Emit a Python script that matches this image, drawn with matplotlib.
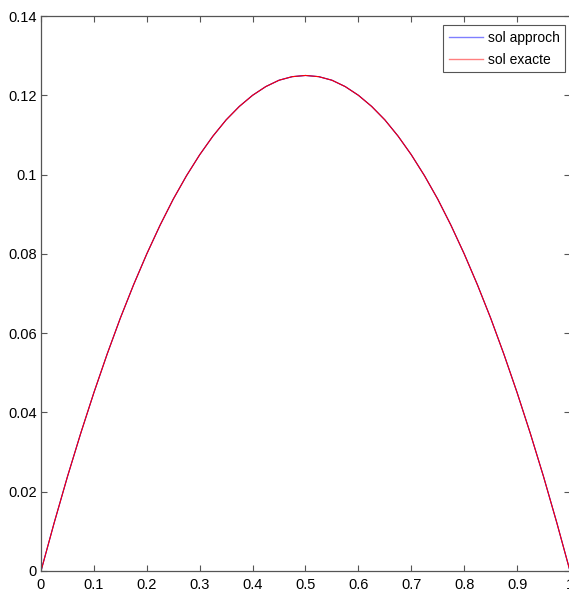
import matplotlib
matplotlib.use("Agg")
import matplotlib.pyplot as plt
import numpy as np

x_vals = np.linspace(0, 1, 41)
y_exact = [0.0, 0.0122, 0.0238, 0.0347, 0.0450, 0.0547, 0.0638, 0.0722, 0.0800,
           0.0872, 0.0938, 0.0997, 0.1050, 0.1097, 0.1138, 0.1172, 0.1200, 0.1222,
           0.1238, 0.1247, 0.1250, 0.1247, 0.1238, 0.1222, 0.1200, 0.1172, 0.1138,
           0.1097, 0.1050, 0.0997, 0.0938, 0.0872, 0.0800, 0.0722, 0.0638, 0.0547,
           0.0450, 0.0347, 0.0238, 0.0122, 0.0]
y_approch = [0.0, 0.0122, 0.0238, 0.0347, 0.0450, 0.0547, 0.0638, 0.0722, 0.0800,
             0.0872, 0.0938, 0.0997, 0.1050, 0.1097, 0.1138, 0.1172, 0.1200, 0.1222,
             0.1238, 0.1247, 0.1250, 0.1247, 0.1238, 0.1222, 0.1200, 0.1172, 0.1138,
             0.1097, 0.1050, 0.0997, 0.0938, 0.0872, 0.0800, 0.0722, 0.0638, 0.0547,
             0.0450, 0.0347, 0.0238, 0.0122, 0.0]
xticks = [0, 0.1, 0.2, 0.3, 0.4, 0.5, 0.6, 0.7, 0.8, 0.9, 1]
xticklabels = ["0", "0.1", "0.2", "0.3", "0.4", "0.5", "0.6", "0.7", "0.8", "0.9", "1"]
yticks = [0, 0.02, 0.04, 0.06, 0.08, 0.1, 0.12, 0.14]
yticklabels = ["0", "0.02", "0.04", "0.06", "0.08", "0.1", "0.12", "0.14"]

plt.rcParams['font.family'] = ['Liberation Sans', 'DejaVu Sans']

fig = plt.figure(figsize=(5.69, 5.94), dpi=100)
ax = fig.add_axes([41/569, 23/594, 529/569, 555/594])

ax.plot(x_vals, y_approch, color='#0000ff', lw=0.8, label='sol approch')
ax.plot(x_vals, y_exact, color='#ff0000', lw=0.8, label='sol exacte')

ax.set_xlim(0, 1)
ax.set_ylim(0, 0.14)
ax.set_xticks(xticks)
ax.set_xticklabels(xticklabels)
ax.set_yticks(yticks)
ax.set_yticklabels(yticklabels)
ax.tick_params(direction='in', length=4, width=0.8, color='#555555',
               labelsize=10.5, top=True, right=True, pad=3)
ax.tick_params(axis='x', pad=5)
for s in ax.spines.values():
    s.set_color('#555555')
    s.set_linewidth(0.9)

leg = ax.legend(loc='upper right', fontsize=10, frameon=True, fancybox=False,
                edgecolor='#555555', framealpha=1, handlelength=2.5,
                borderpad=0.4, labelspacing=0.58, handletextpad=0.3,
                borderaxespad=0, bbox_to_anchor=(0.9905, 0.9838))
leg.get_frame().set_linewidth(0.8)
for h in leg.get_lines():
    h.set_alpha(0.5)
    h.set_linewidth(1.0)

fig.savefig("out.png", dpi=100)
